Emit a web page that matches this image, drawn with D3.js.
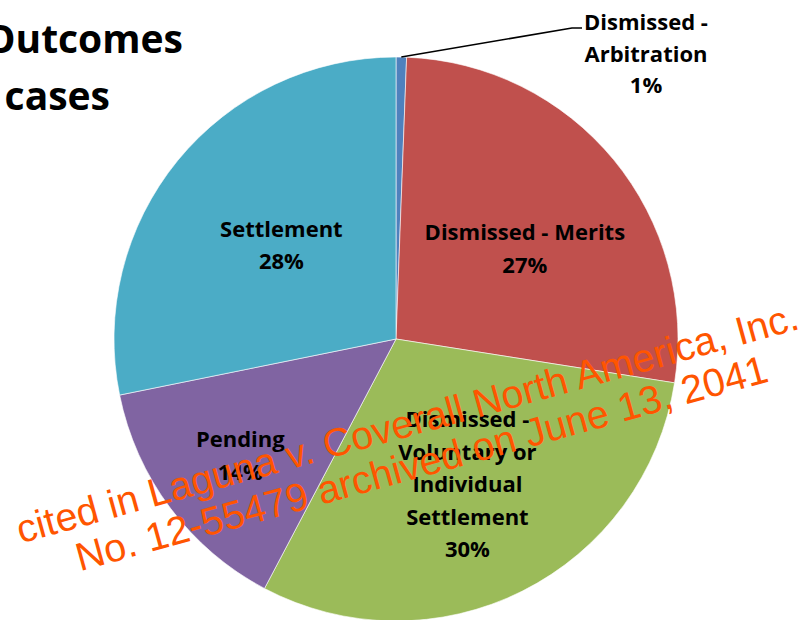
<!DOCTYPE html>
<html>
<head>
<meta charset="utf-8">
<script src="https://cdn.jsdelivr.net/npm/d3@7/dist/d3.min.js"></script>
<style>
  html, body { margin: 0; padding: 0; background: #fff; }
  svg { display: block; }
</style>
</head>
<body>
<svg id="chart" width="804" height="620"></svg>
<script>
// ---- data ----
const categories = [
  "Dismissed - Arbitration",
  "Dismissed - Merits",
  "Dismissed - Voluntary or Individual Settlement",
  "Pending",
  "Settlement"
];
const values = [0.6, 26.9, 30.25, 14.1, 28.2];
const labelLines = [
  ["Dismissed -", "Arbitration"],
  ["Dismissed - Merits"],
  ["Dismissed -", "Voluntary or", "Individual", "Settlement"],
  ["Pending"],
  ["Settlement"]
];
const colors = ["#4F81BD", "#C0504D", "#9BBB59", "#8064A2", "#4BACC6"];
const titleLines = ["Outcomes", "cases"];
const watermarkLines = [
  "cited in Laguna v. Coverall North America, Inc.",
  "No. 12-55479 archived on June 13, 2041"
];

// ---- layout ----
const W = 804, H = 620;
const cx = 396, cy = 339, R = 282;
const labelFont = "'Open Sans', 'Liberation Sans', sans-serif";
const labelSize = 22, labelLH = 32.5;
// radial placement factor of each inside label (fraction of radius) and small nudges
const labelRadius = [null, 0.555, 0.565, 0.69, 0.525];
const labelNudge = [null, [8, 9], [0, 3], [0, 0], [0, 0]];

const svg = d3.select("#chart");
const total = d3.sum(values);
const data = categories.map((c, i) => ({
  cat: c, value: values[i], color: colors[i], lines: labelLines[i], idx: i
}));

const pie = d3.pie().sort(null).value(d => d.value).startAngle(0).endAngle(2 * Math.PI);
const arcs = pie(data);
const arc = d3.arc().innerRadius(0).outerRadius(R);

const g = svg.append("g").attr("transform", `translate(${cx},${cy})`);

g.selectAll("path.slice")
  .data(arcs)
  .join("path")
  .attr("class", "slice")
  .attr("d", arc)
  .attr("fill", d => d.data.color)
  .attr("stroke", "#ffffff")
  .attr("stroke-width", 0.6);

const pct = v => Math.round(v / total * 100) + "%";

// inside labels
arcs.forEach((a, i) => {
  if (labelRadius[i] == null) return;
  const rr = labelRadius[i] * R;
  let [lx, ly] = d3.arc().innerRadius(rr).outerRadius(rr).centroid(a);
  lx += labelNudge[i][0];
  ly += labelNudge[i][1];
  const lines = a.data.lines.concat([pct(a.data.value)]);
  const n = lines.length;
  const firstBase = ly - (n - 1) * labelLH / 2 + labelSize * 0.36;
  const t = g.append("text")
    .attr("text-anchor", "middle")
    .attr("font-family", labelFont)
    .attr("font-weight", "bold")
    .attr("font-size", labelSize)
    .attr("fill", "#000");
  lines.forEach((s, j) => {
    t.append("tspan").attr("x", lx).attr("y", firstBase + j * labelLH).text(s);
  });
});

// outside callout for the small slice
{
  const a = arcs[0];
  const [ex, ey] = d3.arc().innerRadius(R).outerRadius(R).centroid(a);
  const elbowX = 176, elbowY = 28 - cy, endX = 186;
  g.append("polyline")
    .attr("points", `${ex},${ey} ${elbowX},${elbowY} ${endX},${elbowY}`)
    .attr("fill", "none")
    .attr("stroke", "#000")
    .attr("stroke-width", 1.6);
  const lines = a.data.lines.concat([pct(a.data.value)]);
  const t = g.append("text")
    .attr("text-anchor", "middle")
    .attr("font-family", labelFont)
    .attr("font-weight", "bold")
    .attr("font-size", labelSize)
    .attr("fill", "#000");
  lines.forEach((s, j) => {
    t.append("tspan").attr("x", 250).attr("y", 30 - cy + j * 31.5).text(s);
  });
}

// title (cropped at left, as in the reference)
const title = svg.append("text")
  .attr("text-anchor", "end")
  .attr("font-family", labelFont)
  .attr("font-weight", "bold")
  .attr("font-size", 39)
  .attr("fill", "#000");
title.append("tspan").attr("x", 183).attr("y", 53).text(titleLines[0]);
title.append("tspan").attr("x", 110).attr("y", 110).text(titleLines[1]);

// watermark
const wm = svg.append("g")
  .attr("transform", "translate(411,436) rotate(-15.4)");
const wt = wm.append("text")
  .attr("text-anchor", "middle")
  .attr("font-family", "'Liberation Sans', Arial, sans-serif")
  .attr("font-size", 39.5)
  .attr("fill", "#FF5500");
watermarkLines.forEach((s, j) => {
  wt.append("tspan").attr("x", j * 3).attr("y", j * 42.5).text(s);
});
</script>
</body>
</html>
